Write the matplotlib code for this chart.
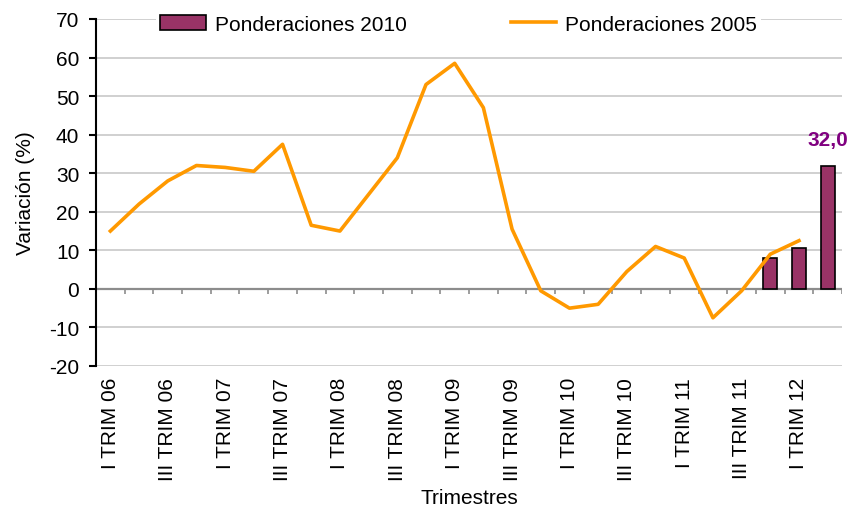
import numpy as np
import matplotlib.pyplot as plt

plt.rcParams['font.family'] = ['Liberation Sans', 'DejaVu Sans']
plt.rcParams['axes.unicode_minus'] = False

# quarters I TRIM 06 .. II TRIM 12
romans = ["I", "II", "III", "IV"]
quarters = [f"{r} TRIM {y:02d}" for y in range(6, 13) for r in romans][:26]

pond_2005 = [15, 22, 28, 32, 31.5, 30.5, 37.5, 16.5, 15, 24.5, 34, 53, 58.5, 47,
             15.5, -0.5, -5, -4, 4.5, 11, 8, -7.5, -0.5, 9, 12.5]
bar_idx = [23, 24, 25]
pond_2010 = [8, 10.5, 32.0]

fig = plt.figure(figsize=(8.52, 5.10), dpi=100)
ax = fig.add_axes([0.1127, 0.2804, 0.8756, 0.6804])

x = np.arange(len(quarters))
bars = ax.bar(bar_idx, pond_2010, width=0.5, color="#993366", edgecolor="black",
              linewidth=1.2, label="Ponderaciones 2010", zorder=3)
line, = ax.plot(x[:len(pond_2005)], pond_2005, color="#FF9900", linewidth=2.6,
                label="Ponderaciones 2005", zorder=4)

ax.annotate(f"{pond_2010[-1]:.1f}".replace(".", ","), (bar_idx[-1], pond_2010[-1]),
            xytext=(0, 12), textcoords="offset points", ha="center", va="bottom",
            color="#800080", fontsize=15, fontweight="bold")

ax.set_xlim(-0.5, len(quarters) - 0.5)
ax.set_ylim(-20, 70)
ax.set_yticks(range(-20, 71, 10))
ax.yaxis.grid(True, color="#c8c8c8", linewidth=1.2)
ax.set_axisbelow(True)

# zero axis with boundary ticks
ax.axhline(0, color="#8c8c8c", linewidth=1.6, zorder=2)
bounds = np.arange(-0.5, len(quarters), 1.0)
ax.vlines(bounds[1:], -1.4, 0, color="#8c8c8c", linewidth=1.2, zorder=2)

ax.set_xticks(x[::2])
ax.set_xticklabels(quarters[::2], rotation=90, fontsize=15)
ax.tick_params(axis="x", length=0, pad=8)
ax.tick_params(axis="y", labelsize=15, length=5, width=1.5, direction="out", pad=7)

for s in ["top", "right", "bottom"]:
    ax.spines[s].set_visible(False)
ax.spines["left"].set_linewidth(1.5)

ax.set_xlabel("Trimestres", fontsize=15, labelpad=6)
ax.set_ylabel("Variación (%)", fontsize=15, labelpad=10)

leg = ax.legend([bars, line], ["Ponderaciones 2010", "Ponderaciones 2005"],
                loc="center", ncol=2, fontsize=15, frameon=True,
                bbox_to_anchor=(0.486, 0.985), columnspacing=5.0, handlelength=2.2,
                handleheight=0.75, handletextpad=0.4, borderpad=0.2)
leg.get_frame().set_facecolor("white")
leg.get_frame().set_edgecolor("none")
leg.get_frame().set_alpha(1)

fig.savefig("out.png", dpi=100)
